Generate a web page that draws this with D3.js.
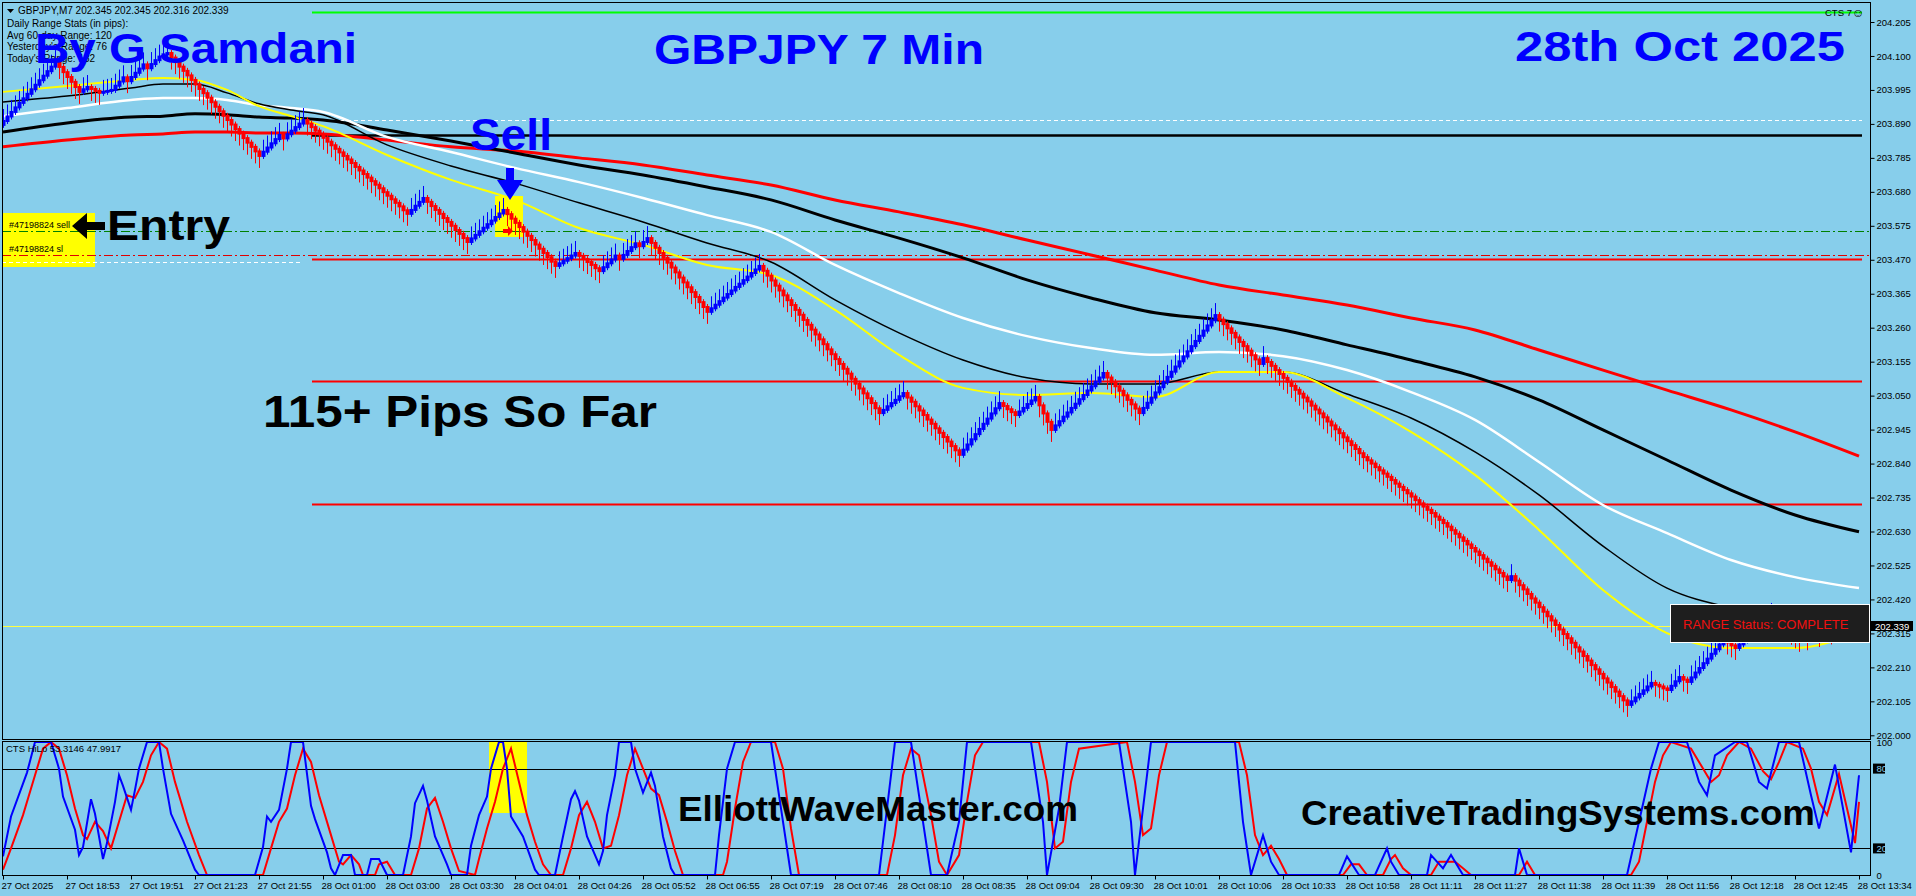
<!DOCTYPE html>
<html>
<head>
<meta charset="utf-8">
<script src="https://cdn.jsdelivr.net/npm/d3@7"></script>
<style>
html, body { margin: 0; padding: 0; background: #87ceeb; overflow: hidden; }
svg { display: block; }
text { font-family: "Liberation Sans", Arial, sans-serif; }
</style>
</head>
<body>
<svg id="chart" width="1916" height="896"></svg>
<script>
// ---- data ----
const closes = [
	203.899, 203.913, 203.927, 203.941, 203.955, 203.969, 203.983, 203.997, 204.011, 204.025, 204.039, 204.053, 204.067, 204.081,
	204.066, 204.050, 204.035, 204.020, 204.004, 203.989, 203.997, 204.004, 203.998, 203.992, 203.986, 203.989, 203.992, 203.995,
	204.008, 204.021, 204.034, 204.022, 204.035, 204.048, 204.061, 204.074, 204.062, 204.075, 204.087, 204.098, 204.105, 204.109,
	204.095, 204.081, 204.067, 204.054, 204.040, 204.026, 204.012, 203.998, 203.985, 203.971, 203.957, 203.943, 203.929, 203.915,
	203.902, 203.888, 203.874, 203.860, 203.846, 203.832, 203.819, 203.805, 203.791,
	203.804, 203.817, 203.830, 203.843, 203.856, 203.845, 203.858, 203.869, 203.880, 203.891, 203.902,
	203.891, 203.880, 203.869, 203.858, 203.847, 203.835, 203.824, 203.813, 203.802, 203.791, 203.780, 203.769, 203.757,
	203.746, 203.735, 203.724, 203.713, 203.702, 203.691, 203.679, 203.668, 203.657, 203.646, 203.635, 203.623, 203.612,
	203.624, 203.637, 203.649, 203.661,
	203.649, 203.636, 203.624, 203.612, 203.599, 203.587, 203.575, 203.562, 203.550, 203.537, 203.525,
	203.536, 203.547, 203.558, 203.569, 203.580, 203.591, 203.602, 203.613, 203.624,
	203.611, 203.597, 203.584, 203.571, 203.557, 203.544, 203.531, 203.517, 203.504, 203.491, 203.478, 203.464, 203.451,
	203.459, 203.467, 203.475, 203.483, 203.491, 203.482, 203.472, 203.463, 203.454, 203.444, 203.435,
	203.447, 203.459, 203.471, 203.483, 203.473, 203.485, 203.497, 203.509, 203.521, 203.512, 203.525, 203.537,
	203.522, 203.507, 203.491, 203.476, 203.461, 203.446, 203.431, 203.415, 203.400, 203.385, 203.370, 203.355, 203.339, 203.324, 203.309,
	203.320, 203.331, 203.342, 203.353, 203.364, 203.375, 203.386, 203.396, 203.407, 203.418, 203.429, 203.440, 203.451,
	203.436, 203.421, 203.406, 203.390, 203.375, 203.360, 203.345, 203.330, 203.315, 203.300, 203.284, 203.269, 203.254, 203.239, 203.224,
	203.209, 203.193, 203.178, 203.163, 203.148, 203.133, 203.118, 203.102, 203.087, 203.072, 203.057, 203.042, 203.027, 203.011, 202.996,
	203.006, 203.017, 203.027, 203.037, 203.048, 203.058,
	203.044, 203.031, 203.017, 203.004, 202.990, 202.976, 202.963, 202.949, 202.935, 202.922, 202.908, 202.894, 202.881, 202.867,
	202.883, 202.899, 202.915, 202.931, 202.947, 202.963, 202.979, 202.995, 203.011, 203.027,
	203.018, 203.008, 202.999, 202.990, 203.001, 203.012, 203.024, 203.035, 203.046, 203.020, 202.995, 202.969, 202.944,
	202.958, 202.971, 202.985, 202.998, 203.012, 203.025, 203.039, 203.052, 203.066, 203.079, 203.093, 203.106, 203.120,
	203.106, 203.092, 203.079, 203.065, 203.051, 203.037, 203.023, 203.010, 202.996,
	203.012, 203.028, 203.044, 203.060, 203.076, 203.092, 203.108, 203.124, 203.140, 203.156, 203.171, 203.187, 203.203, 203.219,
	203.235, 203.251, 203.267, 203.283, 203.299,
	203.285, 203.271, 203.258, 203.244, 203.230, 203.216, 203.203, 203.189, 203.175, 203.162, 203.148, 203.166,
	203.154, 203.142, 203.129, 203.117, 203.105, 203.093, 203.080, 203.068, 203.056, 203.044, 203.032, 203.019, 203.007,
	202.995, 202.983, 202.970, 202.958, 202.946, 202.934, 202.921, 202.909, 202.897, 202.885, 202.872, 202.860,
	202.850, 202.840, 202.829, 202.819, 202.809, 202.799, 202.789, 202.778, 202.768, 202.758, 202.748, 202.738, 202.727,
	202.717, 202.707, 202.697, 202.687, 202.676, 202.666, 202.656,
	202.645, 202.634, 202.623, 202.612, 202.601, 202.590, 202.579, 202.568, 202.557, 202.546, 202.535, 202.524, 202.513,
	202.502, 202.491, 202.480, 202.492,
	202.478, 202.464, 202.451, 202.437, 202.423, 202.410, 202.396, 202.382, 202.368, 202.355, 202.341, 202.327, 202.313,
	202.300, 202.286, 202.272, 202.259, 202.245, 202.231, 202.217, 202.204, 202.190, 202.176, 202.163, 202.149, 202.135,
	202.121, 202.108, 202.094,
	202.105, 202.117, 202.128, 202.139, 202.151, 202.162, 202.156, 202.151, 202.145, 202.140, 202.153, 202.167, 202.180,
	202.172, 202.165, 202.179, 202.194, 202.208, 202.223, 202.237, 202.252, 202.266, 202.281, 202.295,
	202.287, 202.278, 202.270, 202.281, 202.293, 202.304, 202.315, 202.327, 202.338, 202.349, 202.361, 202.372,
	202.361, 202.350, 202.339, 202.328, 202.317, 202.306, 202.295,
	202.305, 202.300, 202.312, 202.320, 202.310, 202.322, 202.330, 202.318, 202.325, 202.335, 202.328, 202.332, 202.340, 202.334, 202.339
];

// moving averages sampled at these bars
const maBars = [0, 16, 32, 40, 48, 56, 64, 72, 80, 96, 112, 128, 144, 160, 176, 192, 208, 224, 240, 256, 272, 288, 304, 320, 336, 352, 368, 384, 400, 416, 432, 448, 464];
const maYellow = [203.989, 204.007, 204.026, 204.032, 204.026, 203.995, 203.945, 203.914, 203.883, 203.794, 203.717, 203.655, 203.568, 203.516, 203.454, 203.423, 203.315, 203.176, 203.074, 203.052, 203.058, 203.046, 203.123, 203.123, 203.043, 202.938, 202.805, 202.635, 202.449, 202.316, 202.270, 202.270, 202.319];
const maThinBlack = [203.958, 203.976, 204.001, 204.013, 204.013, 203.986, 203.952, 203.933, 203.918, 203.825, 203.760, 203.707, 203.646, 203.587, 203.522, 203.463, 203.346, 203.244, 203.160, 203.105, 203.086, 203.086, 203.123, 203.123, 203.055, 202.981, 202.876, 202.743, 202.585, 202.455, 202.394, 202.363, 202.350];
const maWhite = [203.914, 203.939, 203.964, 203.970, 203.970, 203.964, 203.948, 203.939, 203.927, 203.850, 203.803, 203.754, 203.710, 203.661, 203.608, 203.556, 203.454, 203.367, 203.290, 203.234, 203.197, 203.176, 203.185, 203.172, 203.129, 203.061, 202.975, 202.845, 202.712, 202.625, 202.542, 202.489, 202.455];
const maThickBlack = [203.865, 203.893, 203.911, 203.914, 203.921, 203.918, 203.911, 203.908, 203.902, 203.871, 203.837, 203.800, 203.763, 203.732, 203.695, 203.655, 203.593, 203.537, 203.476, 203.408, 203.352, 203.306, 203.284, 203.253, 203.207, 203.160, 203.108, 203.037, 202.944, 202.851, 202.758, 202.681, 202.629];
const maRed = [203.819, 203.840, 203.856, 203.859, 203.865, 203.865, 203.862, 203.862, 203.859, 203.840, 203.819, 203.806, 203.785, 203.763, 203.732, 203.701, 203.655, 203.618, 203.578, 203.531, 203.485, 203.438, 203.392, 203.361, 203.330, 203.290, 203.253, 203.191, 203.129, 203.067, 203.006, 202.938, 202.863];

// horizontal levels: green top, white dash, black, entry, stop, red, white short, red, red
const levelPrices = [204.236, 203.902, 203.856, 203.559, 203.485, 203.472, 203.463, 203.095, 202.715];
const lastPrice = 202.339;

// CTS HiLo oscillator, [bar, value]
const stochK = [
	[0,14],[2,44],[6,77],[8,100],[12,100],[14,80],[15,59],[18,34],[19,15],[20,21],[22,57],[23,46],[25,12],[26,24],[28,55],[29,75],
	[30,67],[32,49],[33,64],[34,80],[36,100],[39,100],[40,80],[42,46],[45,26],[48,4],[49,0],[63,0],[65,21],[66,44],[67,40],[69,49],
	[71,80],[72,100],[75,100],[77,52],[78,42],[81,17],[82,5],[83,0],[85,15],[87,15],[88,0],[91,0],[92,12],[94,12],[96,0],[100,0],
	[102,29],[103,54],[105,67],[106,56],[108,29],[111,8],[112,0],[116,0],[117,22],[119,45],[121,59],[122,80],[124,100],[125,100],
	[126,80],[127,44],[130,29],[133,4],[134,0],[138,0],[140,29],[142,57],[143,63],[144,56],[146,29],[149,8],[150,18],[151,45],
	[153,75],[154,100],[157,100],[158,80],[160,62],[162,77],[163,67],[165,29],[167,5],[168,0],
	[178,0],[179,30],[181,80],[183,100],[192,100],[194,60],[197,0],[219,0],[221,50],[223,100],[227,100],[230,40],[232,0],[236,0],
	[239,40],[241,100],[257,100],[260,40],[261,0],[264,50],[266,100],[279,100],[282,40],[283,0],[285,50],[287,100],[308,100],
	[310,40],[312,0],[315,30],[317,10],[319,0],[334,0],[336,14],[339,0],[343,0],[346,20],[347,10],[349,0],[356,0],[357,15],
	[360,5],[362,15],[365,0],[378,0],[379,20],[381,0],[406,0],[409,40],[412,80],[414,100],[418,100],[421,100],[424,70],[426,60],
	[428,90],[433,100],[436,100],[439,70],[441,65],[444,100],[449,100],[452,60],[454,35],[458,83],[462,17],[464,75]
];
const stochD = [
	[0,4],[2,20],[5,45],[8,75],[10,95],[12,100],[14,95],[16,75],[18,50],[20,30],[21,27],[23,40],[25,33],[27,20],[29,40],[31,60],
	[33,58],[35,70],[37,90],[39,100],[41,95],[43,70],[46,40],[49,15],[51,0],[65,0],[67,20],[69,40],[71,50],[73,75],[75,95],[77,85],
	[79,60],[82,30],[84,10],[85,8],[87,15],[89,8],[90,0],[93,0],[94,8],[96,10],[98,0],[102,0],[104,20],[106,50],[108,58],[110,40],
	[112,20],[114,3],[118,0],[119,12],[121,35],[123,55],[125,80],[127,95],[129,70],[131,45],[133,25],[135,8],[137,0],[140,0],
	[142,20],[144,45],[146,55],[148,40],[150,20],[152,22],[154,45],[156,75],[158,95],[160,80],[162,65],[164,60],[166,40],[168,18],
	[170,0],[180,0],[181,10],[183,50],[185,85],[187,100],[193,100],[195,80],[197,35],[199,0],[221,0],[223,30],[225,75],[227,95],
	[229,90],[232,45],[234,10],[236,0],[239,15],[241,55],[243,90],[245,100],[259,100],[261,70],[263,20],[265,25],[267,70],[269,95],
	[281,100],[283,70],[285,30],[287,35],[289,75],[291,100],[309,100],[311,75],[313,30],[315,15],[317,22],[319,12],[321,0],[335,0],
	[337,8],[339,8],[341,0],[345,0],[347,12],[348,15],[350,5],[352,0],[357,0],[359,10],[361,10],[363,10],[365,5],[367,0],[379,0],
	[381,10],[383,0],[407,0],[409,10],[411,40],[413,70],[415,90],[417,100],[422,95],[425,80],[427,70],[429,75],[431,90],[434,100],
	[437,95],[440,78],[442,72],[444,85],[446,100],[450,95],[452,80],[454,55],[456,45],[459,76],[463,24],[464,55]
];

const priceTicks = [204.205, 204.100, 203.995, 203.890, 203.785, 203.680, 203.575, 203.470, 203.365, 203.260, 203.155,
	203.050, 202.945, 202.840, 202.735, 202.630, 202.525, 202.420, 202.315, 202.210, 202.105, 202.000];
const stochTicks = [100, 80, 20, 0];
const timeLabels = ["27 Oct 2025", "27 Oct 18:53", "27 Oct 19:51", "27 Oct 21:23", "27 Oct 21:55", "28 Oct 01:00",
	"28 Oct 03:00", "28 Oct 03:30", "28 Oct 04:01", "28 Oct 04:26", "28 Oct 05:52", "28 Oct 06:55", "28 Oct 07:19",
	"28 Oct 07:46", "28 Oct 08:10", "28 Oct 08:35", "28 Oct 09:04", "28 Oct 09:30", "28 Oct 10:01", "28 Oct 10:06",
	"28 Oct 10:33", "28 Oct 10:58", "28 Oct 11:11", "28 Oct 11:27", "28 Oct 11:38", "28 Oct 11:39", "28 Oct 11:56",
	"28 Oct 12:18", "28 Oct 12:45", "28 Oct 13:34"];
const infoLines = ["Daily Range Stats (in pips):", "Avg 60-day Range: 120", "Yesterday's Range: 76", "Today's Range: 182"];

// ---- layout ----
const plotL = 2, plotR = 1870, mainT = 2, mainB = 739, subT = 741, subB = 875;
const lastBar = closes.length - 1;

const svg = d3.select("#chart");
const x = d3.scaleLinear().domain([0, lastBar]).range([3, 1859]);
const y = d3.scaleLinear().domain([202.000, 204.205]).range([735.3, 22]);
const ys = d3.scaleLinear().domain([0, 100]).range([875, 742]);

svg.append("rect").attr("width", 1916).attr("height", 896).attr("fill", "#87ceeb");

let defs = svg.append("defs");
defs.append("clipPath").attr("id", "clipMain").append("rect")
	.attr("x", plotL).attr("y", mainT).attr("width", plotR - plotL).attr("height", mainB - mainT);
defs.append("clipPath").attr("id", "clipSub").append("rect")
	.attr("x", plotL).attr("y", subT).attr("width", plotR - plotL).attr("height", subB - subT);

let main = svg.append("g").attr("clip-path", "url(#clipMain)");
let sub = svg.append("g").attr("clip-path", "url(#clipSub)");

// yellow highlight boxes
main.append("rect").attr("x", 3).attr("y", 213).attr("width", 92).attr("height", 54).attr("fill", "#ffff00");
main.append("rect").attr("x", 495).attr("y", 196).attr("width", 28).attr("height", 41).attr("fill", "#ffff00");

// horizontal levels
function hline(price, x0, x1, color, width, dash) {
	main.append("line")
		.attr("x1", x0).attr("x2", x1)
		.attr("y1", Math.round(y(price)) + 0.5).attr("y2", Math.round(y(price)) + 0.5)
		.attr("stroke", color).attr("stroke-width", width)
		.attr("stroke-dasharray", dash || null);
}
const lvlStart = x(77.25);
hline(levelPrices[0], lvlStart, 1862, "#00ff00", 2);
hline(levelPrices[1], lvlStart, 1862, "#ffffff", 1, "4,3");
hline(levelPrices[2], lvlStart, 1862, "#000000", 2.5);
hline(levelPrices[3], plotL, plotR, "#008000", 1, "9,3,2,3");
hline(levelPrices[4], plotL, plotR, "#e00000", 1, "9,3,2,3");
hline(levelPrices[5], lvlStart, 1862, "#ff0000", 2);
hline(levelPrices[6], plotL, 300, "#ffffff", 1, "4,3");
hline(levelPrices[7], lvlStart, 1862, "#ff0000", 2);
hline(levelPrices[8], lvlStart, 1862, "#ff0000", 2);
hline(lastPrice, plotL, plotR, "#ffff40", 1);

// moving averages
function maLine(values, color, width) {
	let line = d3.line()
		.x((d, i) => x(maBars[i]))
		.y(d => y(d))
		.curve(d3.curveMonotoneX);
	main.append("path").datum(values)
		.attr("d", line)
		.attr("fill", "none")
		.attr("stroke", color)
		.attr("stroke-width", width);
}
maLine(maRed, "#ff0000", 3);
maLine(maThickBlack, "#000000", 3);
maLine(maWhite, "#ffffff", 2.5);
maLine(maThinBlack, "#000000", 1.5);
maLine(maYellow, "#ffff00", 2);

// candles
let bars = closes.map(function (c, i) {
	let o = i > 0 ? closes[i - 1] : c - 0.012;
	return {i: i, o: o, c: c, up: c >= o};
});
let candle = main.append("g").selectAll("g").data(bars).enter().append("g");
candle.append("line")
	.attr("x1", d => Math.round(x(d.i)) + 0.5)
	.attr("x2", d => Math.round(x(d.i)) + 0.5)
	.attr("y1", d => d.up ? y(d.c) - 12 : y(d.o) - 3)
	.attr("y2", d => d.up ? y(d.o) + 3 : y(d.c) + 12)
	.attr("stroke", d => d.up ? "#0000ff" : "#ff0000")
	.attr("stroke-width", 1);
candle.append("rect")
	.attr("x", d => Math.round(x(d.i)) - 1.5)
	.attr("width", 4)
	.attr("y", d => y(Math.max(d.o, d.c)) - 1)
	.attr("height", d => Math.max(2, Math.abs(y(d.o) - y(d.c)) + 2))
	.attr("fill", d => d.up ? "#0000ff" : "#ff0000");

// order arrow inside the sell box
main.append("path")
	.attr("d", "M503,229 h5 v-3 l5,5 l-5,5 v-3 h-5 z")
	.attr("fill", "#ff0000");

// oscillator panel
sub.append("rect").attr("x", 489).attr("y", 742).attr("width", 38).attr("height", 71).attr("fill", "#ffff00");
[80, 20].forEach(function (v) {
	sub.append("line").attr("x1", plotL).attr("x2", plotR)
		.attr("y1", Math.round(ys(v)) + 0.5).attr("y2", Math.round(ys(v)) + 0.5)
		.attr("stroke", "#000").attr("stroke-width", 1);
});
let stochLine = d3.line().x(d => x(d[0])).y(d => ys(d[1]));
sub.append("path").datum(stochD).attr("d", stochLine)
	.attr("fill", "none").attr("stroke", "#ff0000").attr("stroke-width", 2);
sub.append("path").datum(stochK).attr("d", stochLine)
	.attr("fill", "none").attr("stroke", "#0000ff").attr("stroke-width", 2);

// frames
svg.append("rect").attr("x", plotL + 0.5).attr("y", mainT + 0.5).attr("width", plotR - plotL).attr("height", mainB - mainT)
	.attr("fill", "none").attr("stroke", "#000");
svg.append("rect").attr("x", plotL + 0.5).attr("y", subT + 0.5).attr("width", plotR - plotL).attr("height", subB - subT)
	.attr("fill", "none").attr("stroke", "#000");

// price axis
let yAxis = d3.axisRight(y).tickValues(priceTicks).tickFormat(d3.format(".3f")).tickSize(4).tickPadding(2);
let ya = svg.append("g").attr("transform", "translate(" + (plotR + 0.5) + ",0)").call(yAxis);
ya.select(".domain").remove();
ya.selectAll("text").attr("font-size", 9.5).attr("font-family", "Liberation Sans").attr("fill", "#000");

// last price marker
svg.append("rect").attr("x", 1871).attr("y", Math.round(y(lastPrice)) - 5).attr("width", 42).attr("height", 10).attr("fill", "#000");
svg.append("text").attr("x", 1875).attr("y", Math.round(y(lastPrice)) + 3.5).attr("font-size", 9.5).attr("fill", "#fff")
	.text(lastPrice.toFixed(3));

// oscillator axis
[80, 20].forEach(function (v) {
	svg.append("rect").attr("x", 1873).attr("y", ys(v) - 5).attr("width", 12).attr("height", 10).attr("fill", "#000");
});
let sAxis = d3.axisRight(ys).tickValues(stochTicks).tickSize(0).tickPadding(6);
let sa = svg.append("g").attr("transform", "translate(" + (plotR + 0.5) + ",0)").call(sAxis);
sa.select(".domain").remove();
sa.selectAll("text").attr("font-size", 9.5).attr("font-family", "Liberation Sans").attr("fill", "#000");
sa.selectAll(".tick").filter(d => d === 80 || d === 20).select("text").attr("fill", "#87ceeb");

// time axis
let xAxis = d3.axisBottom(x).tickValues(d3.range(0, lastBar + 1, 16))
	.tickFormat((d, i) => timeLabels[i]).tickSize(4).tickPadding(3);
let xa = svg.append("g").attr("transform", "translate(0," + (subB + 0.5) + ")").call(xAxis);
xa.select(".domain").remove();
xa.selectAll("text").attr("font-size", 9.5).attr("font-family", "Liberation Sans").attr("fill", "#000")
	.attr("text-anchor", "start").attr("dx", -2);

// MT4 header texts
svg.append("path").attr("d", "M7,9 h7 l-3.5,4 z").attr("fill", "#000");
svg.append("text").attr("x", 18).attr("y", 14).attr("font-size", 10).attr("fill", "#000")
	.text("GBPJPY,M7  202.345 202.345 202.316 202.339");
infoLines.forEach(function (t, i) {
	svg.append("text").attr("x", 7).attr("y", 27 + i * 11.7).attr("font-size", 10).attr("fill", "#000").text(t);
});
svg.append("text").attr("x", 1825).attr("y", 16).attr("font-size", 9.5).attr("fill", "#000").text("CTS 7");
svg.append("text").attr("x", 1852).attr("y", 17).attr("font-size", 12).attr("font-family", "DejaVu Sans").attr("fill", "#000").text("\u263A");
svg.append("text").attr("x", 6).attr("y", 752).attr("font-size", 9.5).attr("fill", "#000").text("CTS HiLo 53.3146 47.9917");

// order labels
svg.append("text").attr("x", 9).attr("y", 228).attr("font-size", 9).attr("fill", "#000").text("#47198824 sell");
svg.append("text").attr("x", 9).attr("y", 252).attr("font-size", 9).attr("fill", "#000").text("#47198824 sl");

// big annotations
function bigText(t, x0, y0, size, len, color) {
	svg.append("text").attr("x", x0).attr("y", y0)
		.attr("font-size", size).attr("font-weight", "bold").attr("fill", color)
		.attr("textLength", len).attr("lengthAdjust", "spacingAndGlyphs")
		.text(t);
}
bigText("By G Samdani", 35, 63, 43, 322, "#0000ff");
bigText("GBPJPY 7 Min", 654, 64, 43, 330, "#0000ff");
bigText("28th Oct 2025", 1515, 61, 43, 330, "#0000ff");
bigText("Sell", 470, 150, 44, 82, "#0000ff");
bigText("Entry", 107, 240, 43, 123, "#000000");
bigText("115+ Pips So Far", 263, 427, 44, 394, "#000000");
bigText("ElliottWaveMaster.com", 678, 821, 35, 400, "#000000");
bigText("CreativeTradingSystems.com", 1301, 825, 35, 514, "#000000");

// arrows
svg.append("path").attr("d", "M72,226 L87,213 L87,222 L105,222 L105,230 L87,230 L87,239 Z").attr("fill", "#000");
svg.append("path").attr("d", "M506,168 h8 v12 h9 l-13,20 l-13,-20 h9 z").attr("fill", "#0000ff");

// range status box
svg.append("rect").attr("x", 1670.5).attr("y", 604.5).attr("width", 199).attr("height", 38)
	.attr("fill", "#1e1e1e").attr("stroke", "#fff").attr("stroke-width", 1);
svg.append("text").attr("x", 1683).attr("y", 629).attr("font-size", 13).attr("fill", "#f01010")
	.text("RANGE Status: COMPLETE");
</script>
</body>
</html>
